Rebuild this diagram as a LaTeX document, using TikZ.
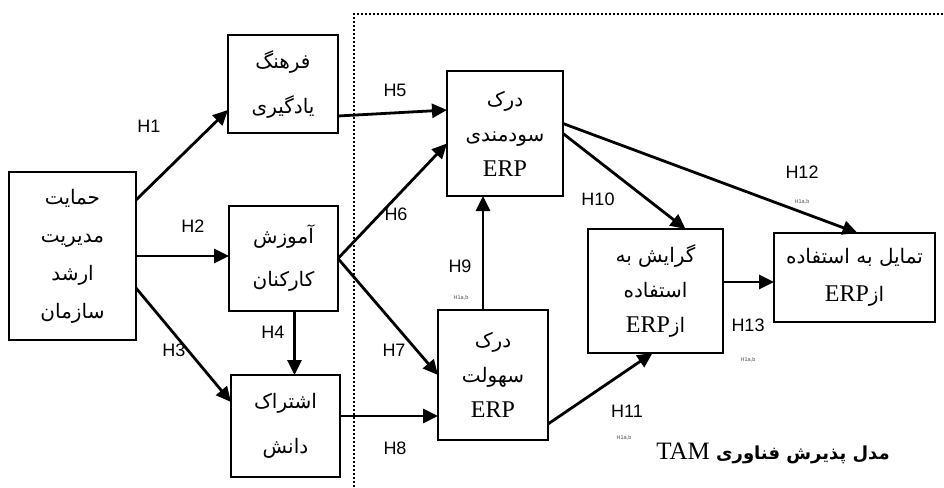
\documentclass[tikz,border=0pt]{standalone}
\usepackage{fontspec}
\setmainfont{Liberation Serif}
\newfontfamily\fa[Script=Arabic]{DejaVu Sans}
\newfontfamily\hs{Liberation Sans}
\newfontfamily\tnr{Liberation Serif}
\TeXXeTstate=1
\usetikzlibrary{arrows.meta,positioning}
\newcommand\RL[1]{\beginR#1\endR}
\newcommand\erp{{\tnr\fontsize{24}{30}\selectfont ERP}}
\begin{document}
\begin{tikzpicture}[x=1pt,y=-1pt,
  box/.style={draw,line width=1.2pt,inner sep=0pt,outer sep=0pt,align=center,
    font=\fa\fontsize{20}{38}\selectfont},
  arr/.style={line width=2.8pt,-{Triangle[length=15pt,width=14pt]}},
  hl/.style={font=\hs\fontsize{18}{20}\selectfont,inner sep=0pt},
  sl/.style={font=\hs\fontsize{5.5}{6}\selectfont,inner sep=0pt,text=black!70}]
\useasboundingbox (0,0) rectangle (944,487);
\fill[white] (0,0) rectangle (944,487);
% dotted frame
\coordinate (f1) at (354,487);
\coordinate (f2) at (354,14);
\coordinate (f3) at (944,14);
\draw[line width=2.2pt,dash pattern=on 2.2pt off 1.8pt] (f1) -- (f2) -- (f3);
% boxes
\node[box,minimum width=127,minimum height=168] (A) at (72.5,256)
  {\RL{حمایت}\\\RL{مدیریت}\\\RL{ارشد}\\\RL{سازمان}};
\node[box,minimum width=110,minimum height=98,font=\fa\fontsize{20}{45}\selectfont] (B) at (283,84)
  {\RL{فرهنگ}\\\RL{یادگیری}};
\node[box,minimum width=109,minimum height=105,font=\fa\fontsize{20}{43}\selectfont] (C) at (283.5,258.5)
  {\RL{آموزش}\\\RL{کارکنان}};
\node[box,minimum width=109,minimum height=102,font=\fa\fontsize{20}{45}\selectfont] (D) at (285.5,426)
  {\RL{اشتراک}\\\RL{دانش}};
\node[box,minimum width=116,minimum height=125,font=\fa\fontsize{20}{35}\selectfont] (E) at (505,133.5)
  {\RL{درک}\\\RL{سودمندی}\\\erp};
\node[box,minimum width=110,minimum height=130,font=\fa\fontsize{20}{35}\selectfont] (F) at (493,375)
  {\RL{درک}\\\RL{سهولت}\\\erp};
\node[box,minimum width=135,minimum height=124,font=\fa\fontsize{20}{35}\selectfont] (G) at (655.5,291)
  {\RL{گرایش به}\\\RL{استفاده}\\\RL{از\beginL\erp\endL}};
\node[box,minimum width=161,minimum height=89,font=\fa\fontsize{20}{38}\selectfont] (T) at (854.5,277.5)
  {\RL{تمایل به استفاده}\\\RL{از\beginL\erp\endL}};
% arrows
\draw[arr] ([yshift=56]A.east) -- ([yshift=-26]B.west);
\draw[arr] (A.east) -- (A.east -| C.west);
\draw[arr] ([yshift=-32]A.east) -- ([yshift=24]D.west);
\draw[arr] ([xshift=11]C.south) -- ([xshift=11]C.south |- D.north);
\draw[arr] ([yshift=-32]B.east) -- ([yshift=23.5]E.west);
\draw[arr] (C.east) -- ([yshift=-10]E.west);
\draw[arr] (C.east) -- (F.west);
\draw[arr] ([yshift=10]D.east) -- ([yshift=10]D.east -| F.west);
\draw[arr] ([xshift=-10]F.north) -- ([xshift=-10]F.north |- E.south);
\draw[arr] (E.east) -- ([xshift=30]G.north);
\draw[arr] ([yshift=10]E.east) -- ([xshift=3]T.north);
\draw[arr] ([yshift=9]G.east) -- ([yshift=9]G.east -| T.west);
\draw[arr] ([yshift=-49]F.east) -- ([xshift=-3]G.south);
% labels
\node[hl] (h1) at (149,126) {H1};
\node[hl] (h2) at (193,226) {H2};
\node[hl] (h3) at (174,350) {H3};
\node[hl] (h4) at (273,332) {H4};
\node[hl] (h5) at (395,90) {H5};
\node[hl] (h6) at (396,214) {H6};
\node[hl] (h7) at (394,350) {H7};
\node[hl] (h8) at (395,448) {H8};
\node[hl] (h9) at (460,266) {H9};
\node[hl] (h10) at (598,199) {H10};
\node[hl] (h11) at (627,411) {H11};
\node[hl] (h12) at (802,172) {H12};
\node[hl] (h13) at (748,325) {H13};
\node[sl] (s9) at (461,298) {H1a,b};
\node[sl] (s12) at (802,202) {H1a,b};
\node[sl] (s13) at (748,360) {H1a,b};
\node[sl] (s11) at (624,438) {H1a,b};
% title
\node[inner sep=0pt] (title) at (773,453)
  {\fa\bfseries\fontsize{18}{20}\selectfont\beginR مدل پذیرش فناوری \beginL{\tnr\mdseries\fontsize{25}{28}\selectfont TAM}\endL\endR};
\end{tikzpicture}
\end{document}
